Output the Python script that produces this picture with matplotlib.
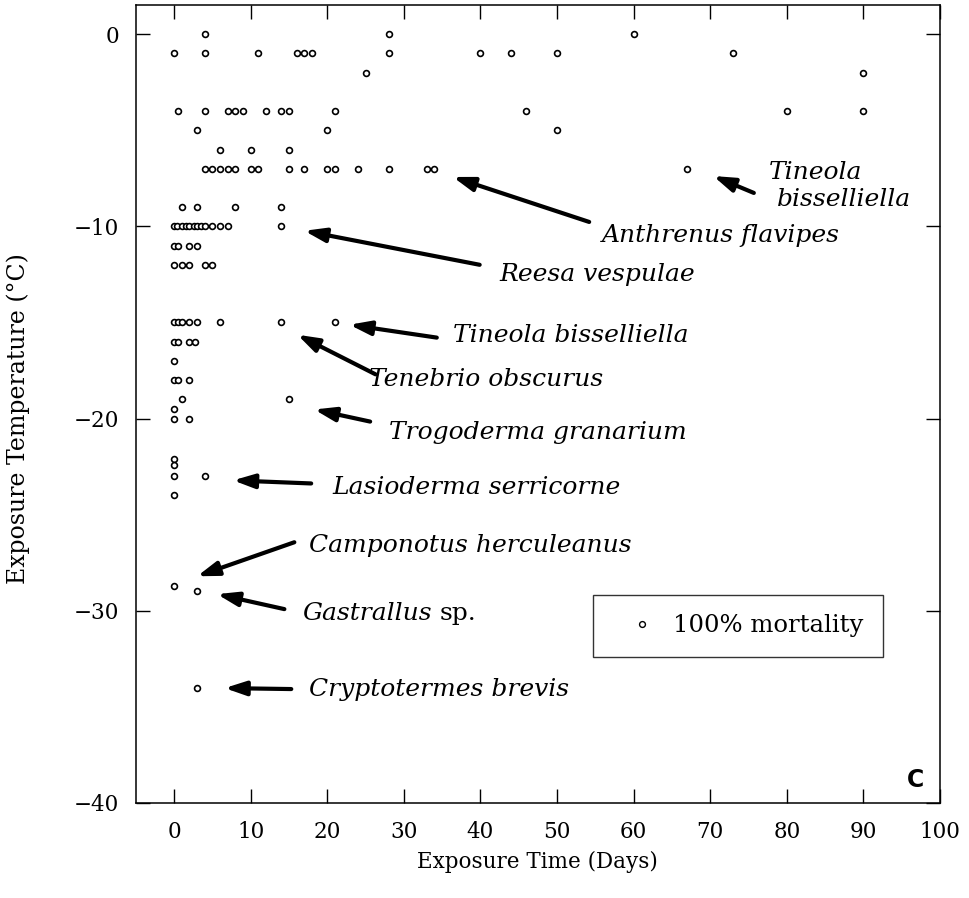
import matplotlib
matplotlib.use("Agg")
import matplotlib.pyplot as plt
from matplotlib.lines import Line2D

# ---- data (Exposure time in days, exposure temperature in °C) ----
rows = {
    0.0:   [4, 28, 60],
    -1.0:  [0, 4, 11, 16, 17, 18, 28, 40, 44, 50, 73],
    -2.0:  [25, 90],
    -4.0:  [0.5, 4, 7, 8, 9, 12, 14, 15, 21, 46, 80, 90],
    -5.0:  [3, 20, 50],
    -6.0:  [6, 10, 15],
    -7.0:  [4, 5, 6, 7, 8, 10, 11, 15, 17, 20, 21, 24, 28, 33, 34, 67],
    -9.0:  [1, 3, 8, 14],
    -10.0: [0, 0.4, 1, 1.6, 2, 2.6, 3, 3.5, 4, 5, 6, 7, 14],
    -11.0: [0, 0.5, 2, 3],
    -12.0: [0, 1, 2, 4, 5],
    -15.0: [0, 0.5, 1, 2, 3, 6, 14, 21],
    -16.0: [0, 0.5, 2, 2.7],
    -17.0: [0],
    -18.0: [0, 0.5, 2],
    -19.0: [1, 15],
    -19.5: [0],
    -20.0: [0, 2],
    -22.1: [0],
    -22.4: [0],
    -23.0: [0, 4],
    -24.0: [0],
    -28.7: [0],
    -29.0: [3],
    -34.0: [3],
}
days = [x for t, xs in rows.items() for x in xs]
temps = [t for t, xs in rows.items() for x in xs]

x_ticks = [0, 10, 20, 30, 40, 50, 60, 70, 80, 90, 100]
y_ticks = [0, -10, -20, -30, -40]

# species labels: (text, text position, arrow tail, arrow tip)
species = [
    ("Tineola",             (77.6, -7.2),   None,            None),
    ("bisselliella",        (78.7, -8.6),   (75.7, -8.26),   (70.4, -7.38)),
    ("Anthrenus flavipes",  (55.8, -10.45), (54.2, -9.77),   (36.4, -7.43)),
    ("Reesa vespulae",      (42.5, -12.52), (39.9, -12.0),   (17.0, -10.23)),
    ("Tineola bisselliella", (36.4, -15.69), (34.3, -15.79), (22.9, -15.12)),
    ("Tenebrio obscurus",   (25.4, -17.97), (26.3, -17.7),   (16.1, -15.64)),
    ("Trogoderma granarium", (28.0, -20.73), (25.6, -20.16), (18.3, -19.53)),
    ("Lasioderma serricorne", (20.7, -23.58), (17.9, -23.38), (7.7, -23.22)),
    ("Camponotus herculeanus", (17.6, -26.6), (15.7, -26.44), (3.0, -28.21)),
    ("Gastrallus",          (16.8, -30.13), (14.4, -29.92),  (5.6, -29.14)),
    ("Cryptotermes brevis", (17.6, -34.08), (15.3, -34.08),  (6.6, -34.03)),
]

plt.rcParams['font.family'] = ['DejaVu Serif']

fig = plt.figure(figsize=(9.7, 8.98), dpi=100)
ax = fig.add_axes([0.140, 0.106, 0.829, 0.888])

ax.plot(days, temps, linestyle='none', marker='o', markersize=4.2,
        markerfacecolor='white', markeredgecolor='black', markeredgewidth=1.2,
        zorder=3)

ax.set_xlim(-5, 100)
ax.set_ylim(-40, 1.5)
ax.set_xticks(x_ticks)
ax.set_yticks(y_ticks)
ax.set_xticklabels([str(v) for v in x_ticks])
ax.set_yticklabels(['0' if v == 0 else '\u2212%d' % abs(v) for v in y_ticks])
ax.tick_params(direction='in', length=10, width=1.0, top=True, right=True,
               labelsize=15.5, color='black')
ax.tick_params(axis='x', pad=13)
ax.tick_params(axis='y', pad=12)
for s in ax.spines.values():
    s.set_linewidth(1.1)

ax.set_xlabel('Exposure Time (Days)', fontsize=15.5, labelpad=6)
ax.set_ylabel('Exposure Temperature (\u00b0C)', fontsize=17)
ax.yaxis.set_label_coords(-0.131, 0.482)

fs = 18
gtext = None
for text, pos, tail, tip in species:
    t = ax.text(pos[0], pos[1], text, fontsize=fs, style='italic',
                ha='left', va='center')
    if text == "Gastrallus":
        gtext = t
    if tail is not None:
        ax.annotate('', xy=tip, xytext=tail,
                    arrowprops=dict(arrowstyle='-|>,head_length=0.9,head_width=0.3',
                                    lw=3.0, color='black', shrinkA=0, shrinkB=0,
                                    mutation_scale=14))
ax.annotate('sp.', xy=(1, 0.5), xycoords=gtext, xytext=(5, 0),
            textcoords='offset points', fontsize=fs, ha='left', va='center')

ax.text(98, -38.8, 'C', fontsize=17, fontweight='bold', family='DejaVu Sans',
        ha='right', va='center')

handle = Line2D([], [], linestyle='none', marker='o', markersize=4.2,
                markerfacecolor='white', markeredgecolor='black',
                markeredgewidth=1.0)
leg = ax.legend([handle], ['100% mortality'], loc='upper left',
                bbox_to_anchor=(0.568, 0.261), borderaxespad=0,
                fontsize=17.5, frameon=True,
                fancybox=False, edgecolor='black', borderpad=0.8,
                handletextpad=0.06, handlelength=2.44)
leg.get_frame().set_linewidth(1.0)

fig.savefig('out.png', dpi=100)
